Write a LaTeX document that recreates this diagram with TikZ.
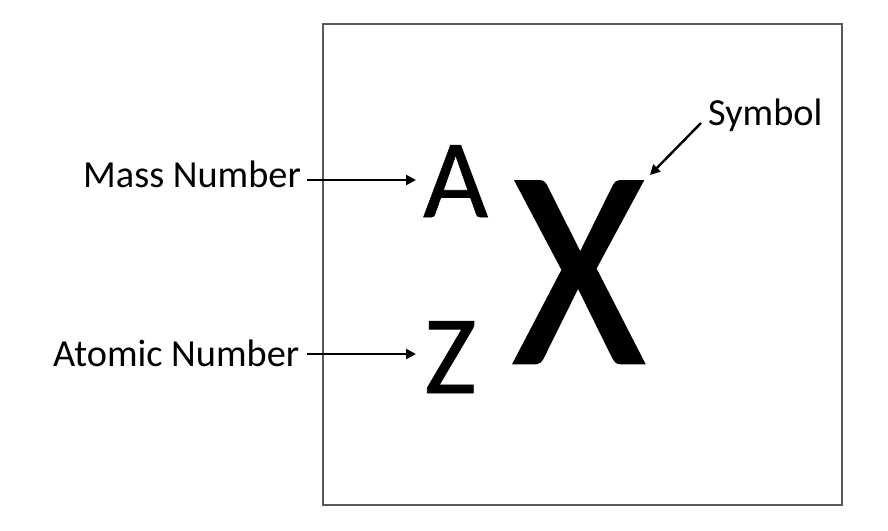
\documentclass[tikz,border=0pt]{standalone}
\usepackage{fontspec}
\usepackage{graphicx}
\setmainfont{Carlito}
\newfontfamily\xfont[FakeBold=1.6]{Carlito}
\newfontfamily\azfont[FakeBold=0.6]{Carlito}
\usetikzlibrary{arrows.meta}
\begin{document}
\begin{tikzpicture}[x=1pt,y=-1pt,
  lbl/.style={inner sep=0pt,anchor=base west,font=\fontsize{38.3}{40}\selectfont},
  big/.style={inner sep=0pt,anchor=base west,font=\azfont\fontsize{112}{120}\selectfont},
  huge/.style={inner sep=0pt,anchor=base west,font=\xfont\fontsize{280}{300}\selectfont},
  arr/.style={line width=2.4pt,-{Triangle[length=10pt,width=10pt]}},
  frame/.style={draw=black!65,line width=1.4pt}]
\useasboundingbox (0,0) rectangle (888,530);
\draw[frame] (323,24) rectangle (842,505);
\node[lbl] (mass) at (83,187) {Mass Number};
\node[lbl] (atomic) at (53,366) {Atomic Number};
\node[lbl] (symbol) at (708,125) {Symbol};
\node[big] (A) at (423,217) {A};
\node[big] (Z) at (424,393) {Z};
\node[huge] (X) at (514,362) {\scalebox{0.89}[1]{X}};
\coordinate (m0) at (307,180);
\coordinate (m1) at (416,180);
\coordinate (a0) at (307,354);
\coordinate (a1) at (416,354);
\coordinate (s0) at (701,123);
\coordinate (s1) at (650,175);
\draw[arr] (m0) -- (m1);
\draw[arr] (a0) -- (a1);
\draw[arr] (s0) -- (s1);
\end{tikzpicture}
\end{document}
